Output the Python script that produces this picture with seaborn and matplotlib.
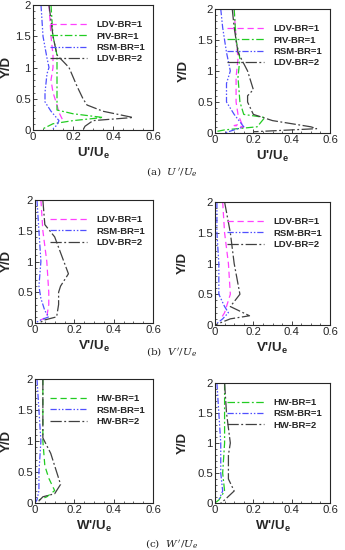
import numpy as np
import pandas as pd
import matplotlib
matplotlib.use("Agg")
import matplotlib.pyplot as plt
import seaborn as sns

# ---- dati (x = fluttuazione / Ue, y = Y/D) ----
# (a) U'/Ue, sinistra
u1_ldv1_x = [0.08, 0.09, 0.10, 0.10, 0.09, 0.10, 0.12, 0.13, 0.15]
u1_ldv1_y = [2.00, 1.50, 1.20, 1.00, 0.80, 0.60, 0.40, 0.28, 0.15]
u1_piv1_x = [0.09, 0.10, 0.12, 0.12, 0.12, 0.12, 0.20, 0.35, 0.20, 0.10, 0.05]
u1_piv1_y = [2.00, 1.50, 1.20, 0.80, 0.50, 0.32, 0.26, 0.20, 0.15, 0.10, 0.02]
u1_rsm1_x = [0.04, 0.05, 0.07, 0.08, 0.07, 0.06, 0.06, 0.09, 0.13, 0.12, 0.10]
u1_rsm1_y = [2.00, 1.50, 1.15, 1.00, 0.90, 0.60, 0.45, 0.30, 0.15, 0.08, 0.02]
u1_ldv2_x = [0.08, 0.10, 0.12, 0.18, 0.22, 0.25, 0.27, 0.35, 0.50, 0.30, 0.26, 0.25]
u1_ldv2_y = [2.00, 1.50, 1.20, 1.00, 0.70, 0.50, 0.40, 0.30, 0.20, 0.15, 0.06, 0.00]

# (a) U'/Ue, destra
u2_ldv1_x = [0.10, 0.11, 0.12, 0.11, 0.11, 0.12, 0.14, 0.10, 0.15, 0.12]
u2_ldv1_y = [2.00, 1.50, 1.20, 0.90, 0.50, 0.30, 0.15, 0.12, 0.10, 0.05]
u2_piv1_x = [0.10, 0.11, 0.13, 0.12, 0.13, 0.15, 0.26, 0.22, 0.05, 0.00]
u2_piv1_y = [2.00, 1.50, 1.20, 0.90, 0.50, 0.30, 0.25, 0.10, 0.05, 0.02]
u2_rsm1_x = [0.03, 0.04, 0.06, 0.08, 0.06, 0.06, 0.10, 0.15, 0.10, 0.05]
u2_rsm1_y = [2.00, 1.70, 1.30, 1.00, 0.80, 0.50, 0.30, 0.10, 0.05, 0.00]
u2_ldv2_x = [0.09, 0.10, 0.12, 0.17, 0.20, 0.17, 0.17, 0.20, 0.30, 0.50, 0.53, 0.40, 0.20]
u2_ldv2_y = [2.00, 1.70, 1.30, 1.00, 0.70, 0.60, 0.50, 0.30, 0.20, 0.10, 0.07, 0.05, 0.02]

# (b) V'/Ue, sinistra
v1_ldv1_x = [0.03, 0.04, 0.06, 0.07, 0.07, 0.06, 0.03]
v1_ldv1_y = [2.00, 1.50, 1.00, 0.50, 0.30, 0.10, 0.05]
v1_rsm1_x = [0.01, 0.02, 0.03, 0.02, 0.03, 0.05, 0.07, 0.03, 0.00]
v1_rsm1_y = [2.00, 1.50, 1.00, 0.60, 0.40, 0.20, 0.10, 0.05, 0.00]
v1_ldv2_x = [0.04, 0.05, 0.10, 0.17, 0.13, 0.12, 0.12, 0.11, 0.05, 0.02]
v1_ldv2_y = [2.00, 1.60, 1.40, 0.80, 0.60, 0.50, 0.30, 0.10, 0.05, 0.00]

# (b) V'/Ue, destra
v2_ldv1_x = [0.04, 0.05, 0.07, 0.08, 0.06, 0.05, 0.03]
v2_ldv1_y = [2.00, 1.50, 1.00, 0.50, 0.30, 0.20, 0.10]
v2_rsm1_x = [0.01, 0.01, 0.02, 0.02, 0.05, 0.07, 0.04, 0.00]
v2_rsm1_y = [2.00, 1.50, 1.00, 0.50, 0.30, 0.20, 0.10, 0.00]
v2_ldv2_x = [0.05, 0.08, 0.10, 0.13, 0.08, 0.18, 0.08, 0.00]
v2_ldv2_y = [2.00, 1.50, 1.00, 0.50, 0.30, 0.15, 0.10, 0.00]

# (c) W'/Ue, sinistra
w1_hw1_x = [0.04, 0.04, 0.04, 0.05, 0.07, 0.10, 0.06, 0.02]
w1_hw1_y = [2.00, 1.50, 1.00, 0.60, 0.40, 0.20, 0.10, 0.05]
w1_rsm1_x = [0.01, 0.02, 0.03, 0.02, 0.02, 0.01, 0.00]
w1_rsm1_y = [2.00, 1.50, 1.00, 0.50, 0.20, 0.05, 0.00]
w1_hw2_x = [0.04, 0.04, 0.04, 0.08, 0.13, 0.10, 0.04, 0.01]
w1_hw2_y = [2.00, 1.50, 1.05, 0.80, 0.30, 0.15, 0.10, 0.00]

# (c) W'/Ue, destra
w2_hw1_x = [0.05, 0.05, 0.05, 0.04, 0.05, 0.02, 0.00]
w2_hw1_y = [2.00, 1.50, 1.00, 0.50, 0.20, 0.05, 0.00]
w2_rsm1_x = [0.01, 0.02, 0.03, 0.03, 0.04, 0.02]
w2_rsm1_y = [2.00, 1.50, 1.00, 0.50, 0.20, 0.05]
w2_hw2_x = [0.05, 0.06, 0.08, 0.07, 0.07, 0.10, 0.05, 0.03]
w2_hw2_y = [2.00, 1.50, 1.00, 0.80, 0.40, 0.20, 0.05, 0.00]

# ---- stili delle serie (stile Tecplot) ----
MAG = "#ff40ff"
GRN = "#22cc22"
BLU = "#5050ff"
BLK = "#404040"
DASH = (0, (5, 3))
DASHDOT = (0, (6, 2, 1.5, 2))
DASHDOTDOT = (0, (5, 1.5, 1.2, 1.5, 1.2, 1.5))
LONGDASHDOT = (0, (9, 2, 1.5, 2))

sns.set_style("ticks")
plt.rcParams["font.family"] = ["Liberation Sans", "DejaVu Sans"]
plt.rcParams["mathtext.fontset"] = "custom"
plt.rcParams["mathtext.rm"] = "Liberation Sans:bold"
plt.rcParams["mathtext.it"] = "Liberation Sans:bold"
plt.rcParams["mathtext.bf"] = "Liberation Sans:bold"

fig = plt.figure(figsize=(3.45, 5.5), dpi=100)
W, H = 345.0, 550.0


def make_ax(left, top, right, bottom):
    return fig.add_axes([left / W, 1 - bottom / H, (right - left) / W, (bottom - top) / H])


# (asse, componente, posizione x di "Y/D" in coord. asse, serie)
panels = [
    (make_ax(33, 5, 153, 130), "U", -0.17, [
        ("LDV-BR=1", u1_ldv1_x, u1_ldv1_y, MAG, DASH),
        ("PIV-BR=1", u1_piv1_x, u1_piv1_y, GRN, DASHDOT),
        ("RSM-BR=1", u1_rsm1_x, u1_rsm1_y, BLU, DASHDOTDOT),
        ("LDV-BR=2", u1_ldv2_x, u1_ldv2_y, BLK, LONGDASHDOT)]),
    (make_ax(215, 9, 330, 133), "U", -0.22, [
        ("LDV-BR=1", u2_ldv1_x, u2_ldv1_y, MAG, DASH),
        ("PIV-BR=1", u2_piv1_x, u2_piv1_y, GRN, DASHDOT),
        ("RSM-BR=1", u2_rsm1_x, u2_rsm1_y, BLU, DASHDOTDOT),
        ("LDV-BR=2", u2_ldv2_x, u2_ldv2_y, BLK, LONGDASHDOT)]),
    (make_ax(35, 200, 153, 323), "V", -0.19, [
        ("LDV-BR=1", v1_ldv1_x, v1_ldv1_y, MAG, DASH),
        ("RSM-BR=1", v1_rsm1_x, v1_rsm1_y, BLU, DASHDOTDOT),
        ("LDV-BR=2", v1_ldv2_x, v1_ldv2_y, BLK, LONGDASHDOT)]),
    (make_ax(215, 202, 330, 325), "V", -0.23, [
        ("LDV-BR=1", v2_ldv1_x, v2_ldv1_y, MAG, DASH),
        ("RSM-BR=1", v2_rsm1_x, v2_rsm1_y, BLU, DASHDOTDOT),
        ("LDV-BR=2", v2_ldv2_x, v2_ldv2_y, BLK, LONGDASHDOT)]),
    (make_ax(35, 379, 153, 503), "W", -0.19, [
        ("HW-BR=1", w1_hw1_x, w1_hw1_y, GRN, DASH),
        ("RSM-BR=1", w1_rsm1_x, w1_rsm1_y, BLU, DASHDOTDOT),
        ("HW-BR=2", w1_hw2_x, w1_hw2_y, BLK, LONGDASHDOT)]),
    (make_ax(215, 383, 330, 503), "W", -0.23, [
        ("HW-BR=1", w2_hw1_x, w2_hw1_y, GRN, DASHDOT),
        ("RSM-BR=1", w2_rsm1_x, w2_rsm1_y, BLU, DASHDOTDOT),
        ("HW-BR=2", w2_hw2_x, w2_hw2_y, BLK, LONGDASHDOT)]),
]

for ax, comp, ylab_x, series in panels:
    for label, xs, ys, col, ls in series:
        df = pd.DataFrame({"x": xs, "y": ys})
        sns.lineplot(data=df, x="x", y="y", sort=False, estimator=None,
                     color=col, linestyle=ls, linewidth=0.9, label=label, ax=ax)
    ax.set_xlim(0, 0.6)
    ax.set_ylim(0, 2)
    ax.set_xticks([0, 0.2, 0.4, 0.6])
    ax.set_xticklabels(["0", "0.2", "0.4", "0.6"])
    ax.set_yticks([0, 0.5, 1, 1.5, 2])
    ax.set_yticklabels(["0", "0.5", "1", "1.5", "2"])
    ax.set_xticks(np.arange(0, 0.61, 0.05), minor=True)
    ax.set_yticks(np.arange(0, 2.01, 0.1), minor=True)
    ax.tick_params(which="both", direction="in", top=False, right=False, labelsize=8.2, pad=1.5)
    ax.tick_params(which="major", length=3, width=0.6)
    ax.tick_params(which="minor", length=1.5, width=0.5)
    for sp in ax.spines.values():
        sp.set_visible(True)
        sp.set_linewidth(0.8)
    ax.set_ylabel("Y/D", fontsize=9.5, fontweight="bold")
    ax.yaxis.set_label_coords(ylab_x, 0.5)
    ax.set_xlabel(comp + r"'/U$_\mathrm{e}$", fontsize=9.5, fontweight="bold", labelpad=3)
    ax.legend(loc="upper right", bbox_to_anchor=(0.99, 0.93), frameon=False,
              handlelength=3.9, handletextpad=1.0, labelspacing=0.25,
              borderaxespad=0.3, prop={"size": 6.8, "weight": "bold"})

# didascalie (serif)
cap_font = {"family": "DejaVu Serif", "size": 7.5}
fig.text(172 / W, 1 - 172 / H, r"(a)  $U\,'/U_e$", ha="center", va="center",
         fontdict=cap_font, math_fontfamily="dejavuserif")
fig.text(172 / W, 1 - 352 / H, r"(b)  $V\,'/U_e$", ha="center", va="center",
         fontdict=cap_font, math_fontfamily="dejavuserif")
fig.text(172 / W, 1 - 543 / H, r"(c)  $W\,'/U_e$", ha="center", va="center",
         fontdict=cap_font, math_fontfamily="dejavuserif")

fig.savefig("out.png", dpi=100, facecolor="white")
